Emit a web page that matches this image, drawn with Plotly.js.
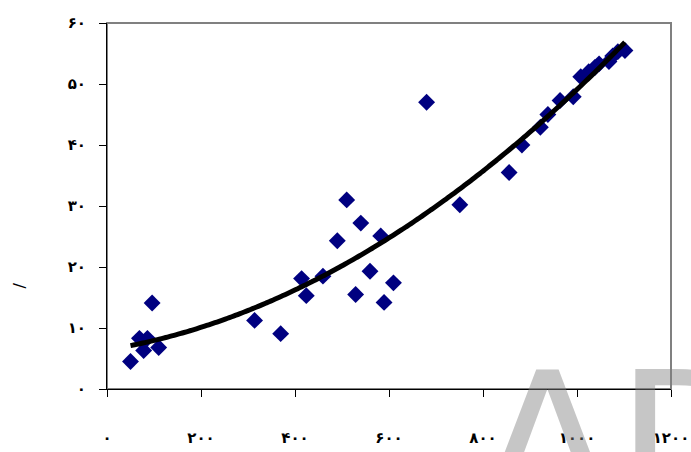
<!DOCTYPE html>
<html>
<head>
<meta charset="utf-8">
<script src="https://cdn.plot.ly/plotly-3.0.1.min.js"></script>
<style>html,body{margin:0;padding:0;background:#fff;}#chart{width:691px;height:452px;}</style>
</head>
<body>
<div id="chart"></div>
<script>
// ---- data ----
const xValues = [50, 69, 86, 78, 110, 96, 314, 369.5, 414, 424, 459.5, 490, 510, 529, 540, 559.6, 582.4, 589.5, 609.5, 680, 750.7, 855.6, 882.8, 922, 938, 964, 992, 1008, 1025, 1038, 1047, 1068, 1076, 1087, 1102];
const yValues = [4.5, 8.3, 8.3, 6.3, 6.8, 14.1, 11.25, 9.07, 18.1, 15.3, 18.5, 24.3, 31.0, 15.5, 27.2, 19.3, 25.1, 14.2, 17.4, 47.0, 30.2, 35.5, 40.0, 42.9, 45.0, 47.3, 47.9, 51.2, 52.0, 52.7, 53.3, 53.7, 54.6, 55.3, 55.5];
const xTickVals = [0, 200, 400, 600, 800, 1000, 1200];
const xTickText = ['۰', '۲۰۰', '۴۰۰', '۶۰۰', '۸۰۰', '۱۰۰۰', '۱۲۰۰'];
const yTickVals = [0, 10, 20, 30, 40, 50, 60];
const yTickText = ['۰', '۱۰', '۲۰', '۳۰', '۴۰', '۵۰', '۶۰'];
const yTitle = '/';
const watermark = 'AD';

// ---- polynomial (order 2) least-squares trendline from the data ----
function polyFit(xs, ys, order) {
  const n = order + 1;
  const A = Array.from({length: n}, () => new Array(n + 1).fill(0));
  for (let k = 0; k < xs.length; k++) {
    for (let i = 0; i < n; i++) {
      for (let j = 0; j < n; j++) A[i][j] += Math.pow(xs[k], i + j);
      A[i][n] += ys[k] * Math.pow(xs[k], i);
    }
  }
  for (let i = 0; i < n; i++) {
    let p = i;
    for (let r = i + 1; r < n; r++) if (Math.abs(A[r][i]) > Math.abs(A[p][i])) p = r;
    [A[i], A[p]] = [A[p], A[i]];
    for (let r = 0; r < n; r++) {
      if (r === i) continue;
      const f = A[r][i] / A[i][i];
      for (let c = i; c <= n; c++) A[r][c] -= f * A[i][c];
    }
  }
  return A.map((row, i) => row[n] / row[i]);
}
const coef = polyFit(xValues, yValues, 2);
const xMin = Math.min(...xValues), xMax = Math.max(...xValues);
const trendX = [], trendY = [];
for (let i = 0; i <= 120; i++) {
  const x = xMin + (xMax - xMin) * i / 120;
  trendX.push(x);
  trendY.push(coef.reduce((s, c, k) => s + c * Math.pow(x, k), 0));
}

const tickFont = {family: 'DejaVu Sans, sans-serif', size: 15, color: '#000', weight: 'bold'};

const data = [
  {type: 'scatter', mode: 'markers', x: xValues, y: yValues,
   marker: {symbol: 'diamond', size: 13, color: '#000080', line: {width: 0}},
   showlegend: false, hoverinfo: 'skip', cliponaxis: false},
  {type: 'scatter', mode: 'lines', x: trendX, y: trendY,
   line: {color: '#000000', width: 5, shape: 'spline'},
   showlegend: false, hoverinfo: 'skip', cliponaxis: false}
];

const layout = {
  width: 691, height: 452,
  margin: {l: 107, r: 20, t: 23, b: 63, pad: 0},
  paper_bgcolor: '#ffffff', plot_bgcolor: '#ffffff',
  showlegend: false,
  xaxis: {range: [0, 1200], tickvals: xTickVals, ticktext: xTickText,
          showgrid: false, zeroline: false, showline: true, linecolor: '#000', linewidth: 1,
          ticks: 'outside', ticklen: 7, tickcolor: '#000', tickwidth: 1,
          tickfont: tickFont, ticklabelstandoff: 28, fixedrange: true},
  yaxis: {range: [0, 60], tickvals: yTickVals, ticktext: yTickText,
          showgrid: false, zeroline: false, showline: true, linecolor: '#000', linewidth: 1,
          ticks: 'outside', ticklen: 7, tickcolor: '#000', tickwidth: 1,
          tickfont: tickFont, ticklabelstandoff: 10, fixedrange: true},
  shapes: [
    {type: 'rect', xref: 'paper', yref: 'paper', x0: 0, x1: 1, y0: 0, y1: 1,
     line: {color: '#808080', width: 2}, layer: 'below'}
  ],
  annotations: [
    {text: yTitle, xref: 'paper', yref: 'paper', x: -0.156, y: 0.283, textangle: -90,
     xanchor: 'center', yanchor: 'middle',
     showarrow: false, font: {family: 'DejaVu Sans, sans-serif', size: 16, color: '#000'}},
    {text: watermark, xref: 'paper', yref: 'paper', x: 0.656, y: 0.169, textangle: 0,
     showarrow: false, xanchor: 'left', yanchor: 'top',
     font: {family: 'DejaVu Sans, sans-serif', size: 200, color: 'rgba(128,128,128,0.45)'}}
  ]
};

Plotly.newPlot('chart', data, layout, {staticPlot: true, displayModeBar: false});
</script>
</body>
</html>
